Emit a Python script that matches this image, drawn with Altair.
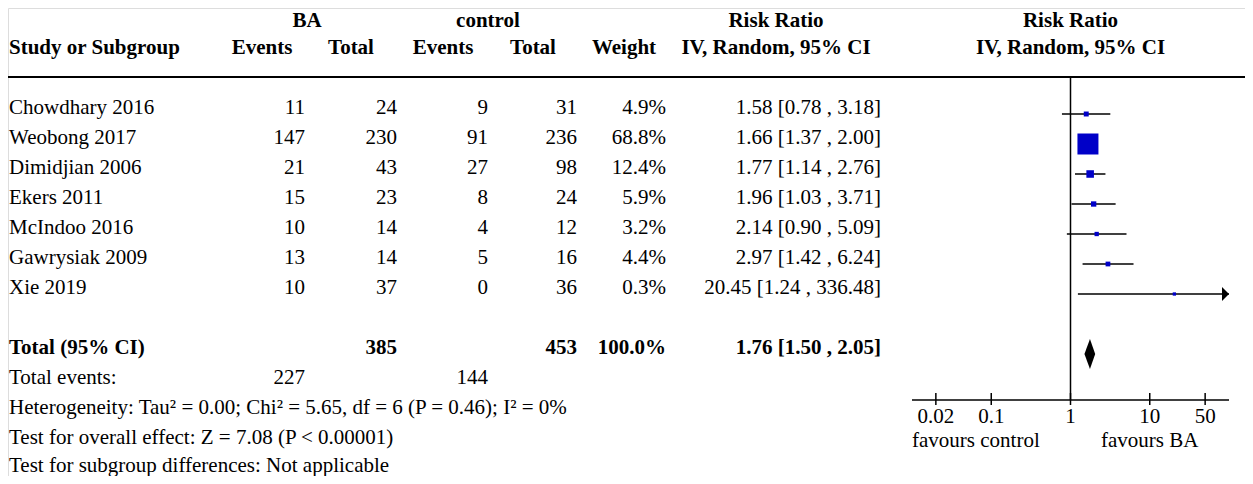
import altair as alt
import pandas as pd

# ---------------- data ----------------
studies = ["Chowdhary 2016", "Weobong 2017", "Dimidjian 2006", "Ekers 2011",
           "McIndoo 2016", "Gawrysiak 2009", "Xie 2019"]
ba_events = [11, 147, 21, 15, 10, 13, 10]
ba_total = [24, 230, 43, 23, 14, 14, 37]
ctrl_events = [9, 91, 27, 8, 4, 5, 0]
ctrl_total = [31, 236, 98, 24, 12, 16, 36]
weights = [4.9, 68.8, 12.4, 5.9, 3.2, 4.4, 0.3]
rr = [1.58, 1.66, 1.77, 1.96, 2.14, 2.97, 20.45]
rr_lo = [0.78, 1.37, 1.14, 1.03, 0.90, 1.42, 1.24]
rr_hi = [3.18, 2.00, 2.76, 3.71, 5.09, 6.24, 336.48]

total_label = "Total (95% CI)"
total_ba_n = 385
total_ctrl_n = 453
total_weight = 100.0
total_rr, total_lo, total_hi = 1.76, 1.50, 2.05
total_events_ba = 227
total_events_ctrl = 144

footer_lines = [
    "Heterogeneity: Tau² = 0.00; Chi² = 5.65, df = 6 (P = 0.46); I² = 0%",
    "Test for overall effect: Z = 7.08 (P < 0.00001)",
    "Test for subgroup differences: Not applicable",
]

axis_ticks = [0.02, 0.1, 1, 10, 50]
axis_labels = ["0.02", "0.1", "1", "10", "50"]
axis_min, axis_max = 0.01, 100
favours_left = "favours control"
favours_right = "favours BA"

# ---------------- layout ----------------
W, H = 1237, 468
FONT = "Liberation Serif"
FS = 21
DY = -6

yscale = alt.Scale(domain=[-3.5, 12], range=[1, 466])
xscale = alt.Scale(type="log", domain=[axis_min, axis_max], range=[904, 1221])


def Y(field="row"):
    return alt.Y(f"{field}:Q", scale=yscale, axis=None)


def X(field="x"):
    return alt.X(f"{field}:Q", scale=xscale, axis=None)


n = len(studies)
study_rows = list(range(n))
TOTAL_ROW = 8
EVENTS_ROW = 9
HEADER1_ROW = -2.9
HEADER2_ROW = -2
LINE_ROW = -1.23
AXIS_ROW = 9.53

table = pd.DataFrame({
    "row": study_rows,
    "name": studies,
    "ba_e": [str(v) for v in ba_events],
    "ba_t": [str(v) for v in ba_total],
    "c_e": [str(v) for v in ctrl_events],
    "c_t": [str(v) for v in ctrl_total],
    "w": [f"{v:.1f}%" for v in weights],
    "rr": [f"{a:.2f} [{b:.2f} , {c:.2f}]" for a, b, c in zip(rr, rr_lo, rr_hi)],
})

total_tbl = pd.DataFrame({
    "row": [TOTAL_ROW],
    "name": [total_label],
    "ba_t": [str(total_ba_n)],
    "c_t": [str(total_ctrl_n)],
    "w": [f"{total_weight:.1f}%"],
    "rr": [f"{total_rr:.2f} [{total_lo:.2f} , {total_hi:.2f}]"],
})

events_tbl = pd.DataFrame({
    "row": [EVENTS_ROW],
    "name": ["Total events:"],
    "ba_e": [str(total_events_ba)],
    "c_e": [str(total_events_ctrl)],
})

footer_rows = [EVENTS_ROW + 1, EVENTS_ROW + 2, EVENTS_ROW + 2.93]
footer_tbl = pd.DataFrame({"row": footer_rows, "name": footer_lines})

# column positions (plot coordinates)
COLS = [("name", 1, "left"), ("ba_e", 297, "right"), ("ba_t", 389, "right"),
        ("c_e", 480, "right"), ("c_t", 569, "right"), ("w", 658, "right"),
        ("rr", 873, "right")]


def text_layer(df, field, xpos, align, bold=False):
    return alt.Chart(df).mark_text(
        align=align, baseline="middle", font=FONT, fontSize=FS, dy=DY,
        fontWeight="bold" if bold else "normal", color="black"
    ).encode(x=alt.value(xpos), y=Y(), text=f"{field}:N")


layers = []
for f, xp, al in COLS:
    layers.append(text_layer(table, f, xp, al))
for f, xp, al in COLS:
    if f in total_tbl.columns:
        layers.append(text_layer(total_tbl, f, xp, al, bold=True))
for f, xp, al in COLS:
    if f in events_tbl.columns:
        layers.append(text_layer(events_tbl, f, xp, al))
layers.append(text_layer(footer_tbl, "name", 1, "left"))

# header texts
hdr1 = pd.DataFrame({"row": [HEADER1_ROW] * 3, "t": ["BA", "control", "Risk Ratio"],
                     "px": [299, 480, 768]})
hdr2 = pd.DataFrame({"row": [HEADER2_ROW] * 6,
                     "t": ["Events", "Total", "Events", "Total", "Weight", "IV, Random, 95% CI"],
                     "px": [254, 343, 435, 525, 616, 768]})
for d in (hdr1, hdr2):
    for _, r in d.iterrows():
        layers.append(text_layer(pd.DataFrame({"row": [r["row"]], "t": [r["t"]]}),
                                 "t", r["px"], "center", bold=True))
layers.append(text_layer(pd.DataFrame({"row": [HEADER2_ROW], "t": ["Study or Subgroup"]}),
                         "t", 1, "left", bold=True))

# forest header, centred on the null line
fh = pd.DataFrame({"x": [1, 1], "row": [HEADER1_ROW, HEADER2_ROW],
                   "t": ["Risk Ratio", "IV, Random, 95% CI"]})
layers.append(alt.Chart(fh).mark_text(align="center", baseline="middle", font=FONT,
                                      fontSize=FS, dy=DY, fontWeight="bold", color="black")
              .encode(x=X(), y=Y(), text="t:N"))

# header separator line
layers.append(alt.Chart(pd.DataFrame({"row": [LINE_ROW]})).mark_rule(
    color="black", strokeWidth=2).encode(x=alt.value(0), x2=alt.value(W), y=Y()))

# null line
layers.append(alt.Chart(pd.DataFrame({"x": [1], "row": [LINE_ROW], "row2": [AXIS_ROW]}))
              .mark_rule(color="black", strokeWidth=1.5)
              .encode(x=X(), y=Y(), y2="row2:Q"))

# axis line and ticks
layers.append(alt.Chart(pd.DataFrame({"x": [axis_min], "x2": [axis_max], "row": [AXIS_ROW]}))
              .mark_rule(color="black", strokeWidth=1.5)
              .encode(x=X(), x2="x2:Q", y=Y()))
ticks = pd.DataFrame({"x": axis_ticks, "row": [AXIS_ROW - 0.23] * len(axis_ticks),
                      "row2": [AXIS_ROW + 0.17] * len(axis_ticks), "t": axis_labels})
layers.append(alt.Chart(ticks).mark_rule(color="black", strokeWidth=1.5)
              .encode(x=X(), y=Y(), y2="row2:Q"))
tick_lab = pd.DataFrame({"x": axis_ticks, "row": [10.1] * len(axis_ticks), "t": axis_labels})
layers.append(alt.Chart(tick_lab).mark_text(align="center", baseline="middle", font=FONT,
                                            fontSize=FS, color="black")
              .encode(x=X(), y=Y(), text="t:N"))
fav = pd.DataFrame({"x": [axis_min, 10], "row": [10.9, 10.9], "t": [favours_left, favours_right],
                    "al": ["left", "center"]})
layers.append(alt.Chart(fav[fav.al == "left"]).mark_text(align="left", baseline="middle",
                                                         font=FONT, fontSize=FS, color="black")
              .encode(x=X(), y=Y(), text="t:N"))
layers.append(alt.Chart(fav[fav.al == "center"]).mark_text(align="center", baseline="middle",
                                                           font=FONT, fontSize=FS, color="black")
              .encode(x=X(), y=Y(), text="t:N"))

# confidence intervals
ci = pd.DataFrame({"row": study_rows, "lo": rr_lo,
                   "hi": [min(h, axis_max) for h in rr_hi], "est": rr, "w": weights})
layers.append(alt.Chart(ci).mark_rule(color="black", strokeWidth=1.5)
              .encode(x=X("lo"), x2="hi:Q", y=Y()))

# arrows for intervals beyond the axis
arrows = pd.DataFrame({"row": [r for r, h in zip(study_rows, rr_hi) if h > axis_max],
                       "x": [axis_max for h in rr_hi if h > axis_max]})
layers.append(alt.Chart(arrows).mark_point(shape="M-1,-1L0,0L-1,1Z", filled=True, size=196,
                                           color="black", opacity=1)
              .encode(x=X(), y=Y()))

# weighted squares
layers.append(alt.Chart(ci).mark_square(filled=True, color="#0000C8", opacity=1)
              .encode(x=X("est"), y=Y(),
                      size=alt.Size("w:Q", scale=alt.Scale(type="pow", exponent=1.3,
                                                           domain=[0.3, 68.8], range=[11, 441]),
                                    legend=None)))

# total diamond
diamond = pd.DataFrame({"x": [total_lo, total_rr, total_hi],
                        "row": [TOTAL_ROW, TOTAL_ROW - 0.5, TOTAL_ROW],
                        "row2": [TOTAL_ROW, TOTAL_ROW + 0.5, TOTAL_ROW]})
layers.append(alt.Chart(diamond).mark_area(color="black", opacity=1)
              .encode(x=X(), y=Y(), y2="row2:Q"))

chart = alt.layer(*layers).properties(
    width=W, height=H, padding=0,
    autosize=alt.AutoSizeParams(type="none")
).configure_view(stroke=None).configure(background="white")

chart.save("out.html", embed_options={"renderer": "svg", "actions": False})
